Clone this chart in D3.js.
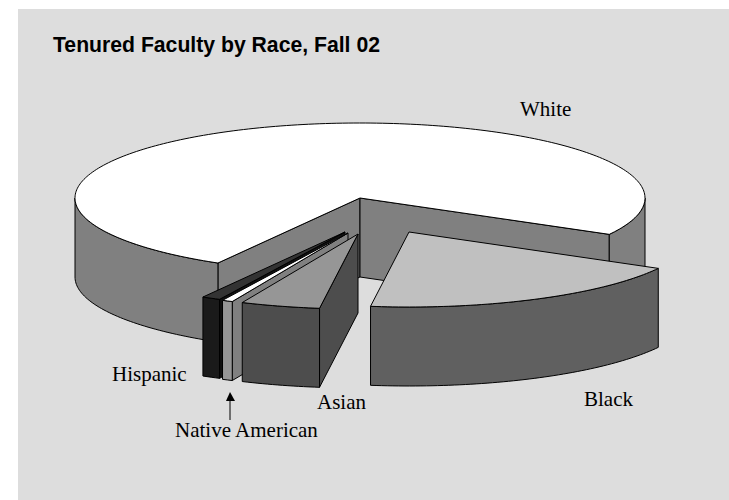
<!DOCTYPE html>
<html>
<head>
<meta charset="utf-8">
<script src="https://cdn.jsdelivr.net/npm/d3@7"></script>
<style>
  html, body { margin: 0; padding: 0; background: #fff; }
  svg { display: block; }
</style>
</head>
<body>
<div id="chart"></div>
<script>
const title = 'Tenured Faculty by Race, Fall 02'
const races = ['Black', 'Asian', 'Native American', 'Hispanic', 'White']
const shares = [19.1, 4.5, 0.6, 1.05, 74.75]

// layout, all in px
const W = 729, H = 500
const cx = 360, cy = 198, rx = 285, ry = 75, depth = 79
const startDeg = 119 // pie() angle of the first slice, clockwise from 12 o'clock

// how far each slice is pulled out of the pie, in px
const pull = {
  White: [0, 0],
  Black: [49, 34],
  Asian: [-2, 36],
  'Native American': [-12, 35],
  Hispanic: [-15, 34]
}
const top_ = { White: '#fff', Black: '#c0c0c0', Asian: '#969696', 'Native American': '#fff', Hispanic: '#333' }
const side = { White: '#808080', Black: '#606060', Asian: '#4d4d4d', 'Native American': '#969696', Hispanic: '#1a1a1a' }
const wall = { White: '#808080', Black: '#606060', Asian: '#4d4d4d', 'Native American': '#808080', Hispanic: '#111' }

const svg = d3.select('#chart').append('svg').attr('width', W).attr('height', H)
svg.append('rect').attr('x', 18).attr('y', 9).attr('width', W - 18).attr('height', H - 9).attr('fill', '#ddd')

// unit circle -> screen
const sx = d3.scaleLinear().domain([-1, 1]).range([cx - rx, cx + rx])
const sy = d3.scaleLinear().domain([-1, 1]).range([cy - ry, cy + ry])
const line = d3.line().x(d => d[0]).y(d => d[1])

const pie = d3.pie().sort(null).value((d, i) => shares[i])
  .startAngle(startDeg * Math.PI / 180)
  .endAngle((startDeg + 360) * Math.PI / 180)
const slices = pie(races)

function rim(a0, a1, dx, dy) {
  const n = Math.max(2, Math.ceil((a1 - a0) / 0.02))
  return d3.range(n + 1).map(i => {
    const a = a0 + (a1 - a0) * i / n
    return [sx(Math.sin(a)) + dx, sy(-Math.cos(a)) + dy]
  })
}

function drawFace(pts, fill) {
  svg.append('path')
    .attr('d', line(pts) + 'Z')
    .attr('fill', fill)
    .attr('stroke', '#000')
    .attr('stroke-width', 1)
    .attr('stroke-linejoin', 'round')
}

function drawSlice(s) {
  const name = s.data
  const [dx, dy] = pull[name]
  const apex = [cx + dx, cy + dy]
  const low = p => [p[0], p[1] + depth]

  // cut walls, only the ones that face the viewer
  ;[s.startAngle, s.endAngle].forEach((a, i) => {
    const normal = a + (i === 0 ? -Math.PI / 2 : Math.PI / 2)
    if (-Math.cos(normal) > 0) {
      const p = rim(a, a, dx, dy)[0]
      drawFace([apex, p, low(p), low(apex)], wall[name])
    }
  })

  // outer rim, front half of each turn only
  const step = Math.PI / 2
  for (let k = 1; k < 6; k += 4) {
    const a0 = Math.max(s.startAngle, k * step)
    const a1 = Math.min(s.endAngle, (k + 2) * step)
    if (a1 > a0) {
      const arc = rim(a0, a1, dx, dy)
      drawFace(arc.concat(arc.map(low).reverse()), side[name])
    }
  }

  drawFace([apex].concat(rim(s.startAngle, s.endAngle, dx, dy)), top_[name])
}

// back to front
const order = ['White', 'Hispanic', 'Native American', 'Asian', 'Black']
order.forEach(name => drawSlice(slices.find(s => s.data === name)))

svg.append('text').attr('x', 53).attr('y', 52)
  .style('font', 'bold 21.2px "Liberation Sans", Arial, sans-serif').text(title)

const labels = [
  ['White', 520, 116],
  ['Hispanic', 112, 381],
  ['Asian', 317, 409],
  ['Black', 584, 406],
  ['Native American', 175, 437]
]
labels.forEach(([t, x, y]) => {
  svg.append('text').attr('x', x).attr('y', y)
    .style('font', '21px "Liberation Serif", "Times New Roman", serif').text(t)
})

// arrow to the Native American slice
svg.append('line').attr('x1', 230).attr('x2', 230).attr('y1', 420).attr('y2', 400)
  .attr('stroke', '#000').attr('stroke-width', 1)
svg.append('path').attr('d', 'M230,392L226,401L235,401Z').attr('fill', '#000')
</script>
</body>
</html>
